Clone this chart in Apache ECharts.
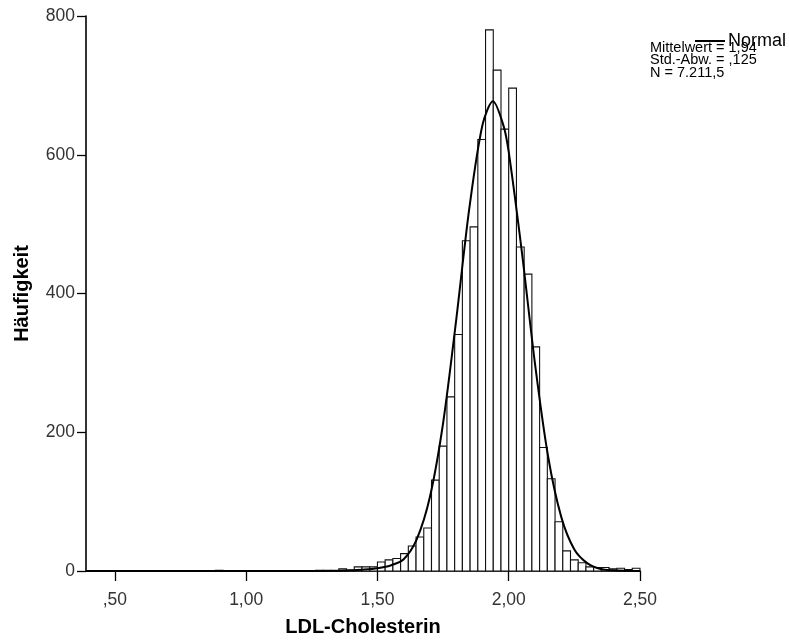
<!DOCTYPE html>
<html>
<head>
<meta charset="utf-8">
<script src="https://cdn.jsdelivr.net/npm/echarts@6/dist/echarts.min.js"></script>
<style>
  html, body { margin: 0; padding: 0; background: #fff; }
  #chart { width: 789px; height: 644px; }
</style>
</head>
<body>
<div id="chart"></div>
<script>
// histogram bins: width 1/34, first bin starts at 1.5 - 21/34
const binWidth = 1 / 34;
const firstEdge = 1.5 - 21 * binWidth;
const counts = [
  1, 0, 0, 0, 0, 0, 0, 0, 0, 0, 0, 0, 0,
  1, 1, 1, 3, 1, 6, 6, 6,
  13, 16, 18, 25, 36, 49, 62, 131, 180, 251, 341, 476, 496, 622,
  780, 722, 637, 696, 467, 428, 323, 178, 133, 71, 29, 16, 12,
  6, 5, 5, 3, 4, 2, 4
];

// normal curve
const curveX = [0.39, 1.2, 1.35, 1.4, 1.45, 1.5, 1.55, 1.6, 1.65, 1.7, 1.75, 1.8, 1.85, 1.9,
  1.94, 1.98, 2.0, 2.05, 2.1, 2.15, 2.2, 2.25, 2.3, 2.35, 2.4, 2.45, 2.5];
const curveY = [0, 0, 0.3, 1, 2, 4, 8, 17, 46, 107, 213, 362, 523, 643,
  677, 642, 604, 460, 299, 165, 78, 31, 11, 3, 1, 0.3, 0];

const xTicks = [0.5, 1.0, 1.5, 2.0, 2.5];
const stats = ["Mittelwert = 1,94", "Std.-Abw. = ,125", "N = 7.211,5"];

const bars = counts.map((c, i) => [firstEdge + i * binWidth, firstEdge + (i + 1) * binWidth, c]);
const curve = curveX.map((x, i) => [x, curveY[i]]);

const chart = echarts.init(document.getElementById("chart"));
chart.setOption({
  animation: false,
  textStyle: { fontFamily: "Liberation Sans, Arial, sans-serif", color: "#000" },
  grid: { left: 86, right: 149, top: 16, bottom: 73 },
  legend: {
    data: ["Normal"],
    left: 690, top: 27,
    icon: "rect", itemWidth: 30, itemHeight: 2,
    itemGap: 0,
    itemStyle: { color: "#000" },
    textStyle: { fontSize: 18, color: "#000", padding: [4, 0, 0, -2] }
  },
  graphic: [{
    type: "text", left: 650, top: 40,
    style: { text: stats.join("\n"), font: "14.5px 'Liberation Sans', Arial", lineHeight: 12.5, fill: "#000" }
  }],
  xAxis: {
    type: "value", min: 0.39, max: 2.5,
    name: "LDL-Cholesterin", nameLocation: "middle", nameGap: 46,
    nameTextStyle: { fontSize: 20, fontWeight: "bold", color: "#000" },
    axisLine: { lineStyle: { color: "#000", width: 1.6 } },
    axisTick: { customValues: xTicks, length: 10, lineStyle: { color: "#000", width: 1.3 } },
    axisLabel: {
      customValues: xTicks, margin: 20, fontSize: 17.5, color: "#333",
      formatter: v => v.toFixed(2).replace(".", ",").replace(/^0/, "")
    },
    splitLine: { show: false }
  },
  yAxis: {
    type: "value", min: 0, max: 800, interval: 200,
    name: "Häufigkeit", nameLocation: "middle", nameGap: 54,
    nameTextStyle: { fontSize: 20, fontWeight: "bold", color: "#000" },
    axisLine: { show: true, lineStyle: { color: "#000", width: 1.6 } },
    axisTick: { show: true, length: 9, lineStyle: { color: "#000", width: 1.3 } },
    axisLabel: { margin: 11, fontSize: 17.5, color: "#333" },
    splitLine: { show: false }
  },
  series: [
    {
      type: "custom",
      name: "Häufigkeit",
      data: bars,
      encode: { x: [0, 1], y: 2 },
      renderItem: (params, api) => {
        const p0 = api.coord([api.value(0), api.value(2)]);
        const p1 = api.coord([api.value(1), 0]);
        return {
          type: "rect",
          shape: { x: p0[0], y: p0[1], width: p1[0] - p0[0], height: p1[1] - p0[1] },
          style: { fill: "#fff", stroke: "#111", lineWidth: 1.1 }
        };
      },
      z: 2
    },
    {
      type: "line",
      name: "Normal",
      data: curve,
      smooth: 0.3,
      symbol: "none",
      lineStyle: { color: "#000", width: 2 },
      itemStyle: { color: "#000" },
      z: 3
    }
  ]
});
</script>
</body>
</html>
